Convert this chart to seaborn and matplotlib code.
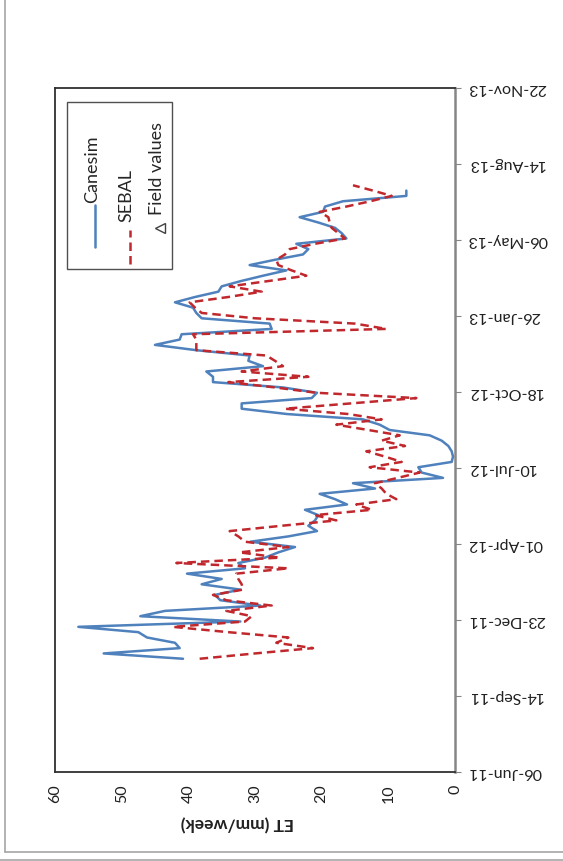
import numpy as np
import pandas as pd
import matplotlib
matplotlib.use("Agg")
from matplotlib import pyplot as plt
from matplotlib.lines import Line2D
from matplotlib.patches import Rectangle
import seaborn as sns

# weekly values, first week starts 02-Nov-2011
start_date = "2011-11-02"
canesim = [40.8, 52.7, 41.3, 42.0, 46.2, 47.5, 56.5, 32.2, 47.2, 43.5,
           29.2, 35.2, 36.0, 32.2, 38.0, 35.0, 40.2, 31.5, 32.5, 28.5,
           26.5, 24.0, 30.7, 25.0, 20.7, 22.0, 21.0, 20.5, 22.5, 16.2,
           18.0, 20.3, 12.0, 15.3, 1.8, 5.0, 5.5, 0.5, 0.3, 0.5,
           1.0, 2.0, 3.8, 9.8, 11.3, 13.8, 25.2, 32.0, 32.0, 21.5,
           20.7, 25.8, 36.3, 36.3, 37.3, 28.8, 31.0, 30.8, 38.8, 45.0,
           41.3, 41.0, 27.5, 27.8, 38.0, 38.8, 39.3, 42.0, 39.0, 35.5,
           35.0, 32.1, 28.8, 25.3, 30.8, 27.0, 22.8, 22.0, 23.8, 16.3,
           17.0, 18.0, 20.5, 23.3, 19.8, 19.5, 16.8, 7.3, 7.3]
sebal = [38.3, 30.0, 21.3, 26.8, 25.0, 34.0, 42.3, 31.5, 30.5, 34.3,
         27.5, 34.3, 36.3, 31.8, 32.0, 32.5, 32.8, 25.0, 41.8, 26.3,
         32.3, 25.0, 31.5, 32.5, 33.8, 26.0, 17.8, 21.0, 12.5, 14.8,
         8.8, 10.3, 11.0, 12.0, 8.6, 5.3, 12.8, 8.0, 10.5, 13.3,
         7.5, 11.0, 8.3, 13.0, 17.8, 11.0, 16.0, 25.5, 15.6, 5.8,
         20.8, 27.0, 34.0, 22.0, 32.0, 25.8, 27.0, 28.3, 38.8, 38.8,
         38.8, 39.3, 10.3, 15.0, 30.0, 38.0, 39.0, 39.8, 34.0, 29.0,
         33.8, 28.0, 22.3, 24.5, 26.5, 26.8, 25.5, 24.8, 21.0, 16.5,
         17.5, 18.5, 18.8, 19.0, 20.3, 16.3, 12.7, 9.5, 12.3, 15.3]
field_dates = []
field_et = []

date_ticks = ["2011-06-06", "2011-09-14", "2011-12-23", "2012-04-01",
              "2012-07-10", "2012-10-18", "2013-01-26", "2013-05-06",
              "2013-08-14", "2013-11-22"]
et_ticks = [0, 10, 20, 30, 40, 50, 60]

blue = "#4F81BD"
red = "#C0282D"
dash = (0, (3.4, 2.0))

df_c = pd.DataFrame({"date": pd.date_range(start_date, periods=len(canesim), freq="7D"),
                     "ET": canesim})
df_s = pd.DataFrame({"date": pd.date_range(start_date, periods=len(sebal), freq="7D"),
                     "ET": sebal})

sns.set_style("white")
plt.rcParams["font.family"] = ["Lato", "DejaVu Sans"]

W, H = 563, 861
fig = plt.figure(figsize=(W / 100, H / 100), dpi=100)
ax = fig.add_axes([55 / W, 1 - 772 / H, 400 / W, 684 / H])

sns.lineplot(data=df_c, x="ET", y="date", orient="y", sort=False, estimator=None,
             color=blue, lw=1.8, ax=ax)
sns.lineplot(data=df_s, x="ET", y="date", orient="y", sort=False, estimator=None,
             color=red, lw=1.8, linestyle=dash, ax=ax)
if field_et:
    ax.scatter(field_et, pd.to_datetime(field_dates), marker="<", facecolor="white",
               edgecolor="#404040")

ax.set_xlim(60, 0)
ax.set_xticks(et_ticks)
ax.set_xticklabels([str(v) for v in et_ticks], rotation=90, fontsize=11.5, color="#202020")
ticks = pd.to_datetime(date_ticks)
ax.set_ylim(ticks[0], ticks[-1])
ax.yaxis.tick_right()
ax.set_yticks(ticks)
ax.set_yticklabels([d.strftime("%d-%b-%y") for d in ticks], rotation=180,
                   fontsize=11.5, color="#202020", va="center")
ax.tick_params(axis="both", direction="out", length=4, width=0.8, color="#868686", pad=5)
ax.set_xlabel("")
ax.set_ylabel("")

for s in ["left", "top", "bottom"]:
    ax.spines[s].set_color("#303030")
    ax.spines[s].set_linewidth(1.3)
ax.spines["right"].set_color("#868686")
ax.spines["right"].set_linewidth(1.8)

fig.text(237 / W, 1 - 823 / H, "ET (mm/week)", rotation=180, fontsize=12.5,
         fontweight="bold", ha="center", va="center", color="#202020")


# legend box drawn by hand, entries run upwards
def fx(x):
    return x / W


def fy(y):
    return 1 - y / H


fig.add_artist(Rectangle((fx(67), fy(269)), fx(172) - fx(67), fy(102) - fy(269),
                         transform=fig.transFigure, fill=False, edgecolor="#505050", lw=1))
fig.add_artist(Line2D([fx(95), fx(95)], [fy(247), fy(205)], transform=fig.transFigure,
                      color=blue, lw=1.8))
fig.text(fx(92), fy(203), "Canesim", rotation=90, ha="center", va="bottom", fontsize=13)
fig.add_artist(Line2D([fx(130), fx(130)], [fy(264), fy(230)], transform=fig.transFigure,
                      color=red, lw=1.8, linestyle=dash))
fig.text(fx(126), fy(222), "SEBAL", rotation=90, ha="center", va="bottom", fontsize=13)
fig.add_artist(Line2D([fx(160)], [fy(228)], transform=fig.transFigure, marker="<",
                      markersize=7, markerfacecolor="white", markeredgecolor="#404040",
                      linestyle="none"))
fig.text(fx(157), fy(215), "Field values", rotation=90, ha="center", va="bottom", fontsize=13)

# outer frame
fig.add_artist(Line2D([fx(4.5), fx(4.5)], [1, fy(852)], transform=fig.transFigure,
                      color="#a6a6a6", lw=1.2))
fig.add_artist(Line2D([fx(4.5), 1], [fy(852), fy(852)], transform=fig.transFigure,
                      color="#a6a6a6", lw=1.2))
fig.add_artist(Line2D([0, 1], [fy(859.5), fy(859.5)], transform=fig.transFigure,
                      color="#a6a6a6", lw=1.2))

fig.savefig("out.png", dpi=100)
